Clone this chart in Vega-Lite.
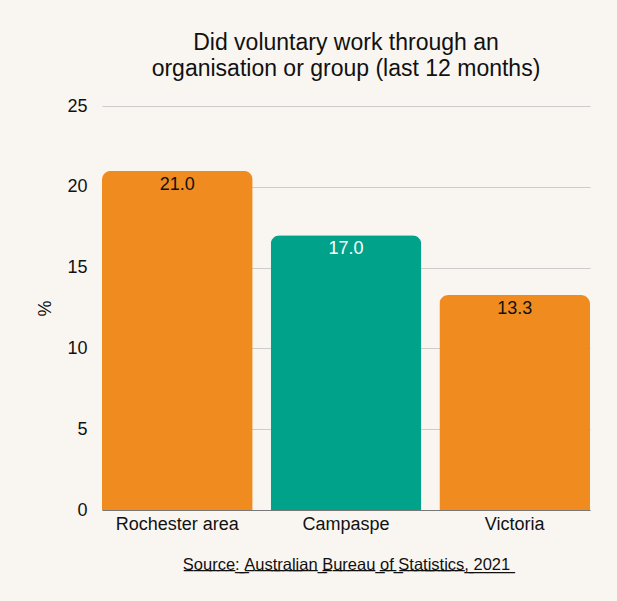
{
  "$schema": "https://vega.github.io/schema/vega-lite/v6.json",
  "width": 488,
  "height": 404,
  "autosize": "none",
  "padding": {"left": 102, "top": 106, "right": 27, "bottom": 91},
  "background": "#F9F6F1",
  "config": {
    "font": "Liberation Sans",
    "view": {"stroke": null},
    "axis": {"labelFont": "Liberation Sans", "titleFont": "Liberation Sans", "labelColor": "#111", "titleColor": "#111"}
  },
  "title": {
    "text": ["Did voluntary work through an", "organisation or group (last 12 months)"],
    "fontSize": 23,
    "fontWeight": "normal",
    "color": "#111",
    "anchor": "middle",
    "lineHeight": 26,
    "offset": 16
  },
  "data": {
    "values": [
      {"region": "Rochester area", "value": 21.0, "label": "21.0", "group": "other"},
      {"region": "Campaspe", "value": 17.0, "label": "17.0", "group": "focus"},
      {"region": "Victoria", "value": 13.3, "label": "13.3", "group": "other"}
    ]
  },
  "encoding": {
    "x": {
      "field": "region",
      "type": "nominal",
      "sort": null,
      "scale": {"paddingInner": 0.107, "paddingOuter": 0},
      "axis": {
        "labelAngle": 0,
        "labelFontSize": 18,
        "labelPadding": 5,
        "ticks": false,
        "domainColor": "#777",
        "title": "S\u0332o\u0332u\u0332r\u0332c\u0332e\u0332:\u0332 \u0332A\u0332u\u0332s\u0332t\u0332r\u0332a\u0332l\u0332i\u0332a\u0332n\u0332 \u0332B\u0332u\u0332r\u0332e\u0332a\u0332u\u0332 \u0332o\u0332f\u0332 \u0332S\u0332t\u0332a\u0332t\u0332i\u0332s\u0332t\u0332i\u0332c\u0332s\u0332,\u0332 \u03322\u03320\u03322\u03321\u0332",
        "titleFontSize": 16.5,
        "titleFontWeight": "normal",
        "titlePadding": 23
      }
    },
    "y": {
      "field": "value",
      "type": "quantitative",
      "scale": {"domain": [0, 25]},
      "axis": {
        "values": [0, 5, 10, 15, 20, 25],
        "title": "%",
        "titleFontSize": 18,
        "titleFontWeight": "normal",
        "titlePadding": 12,
        "labelFontSize": 18,
        "labelPadding": 15,
        "ticks": false,
        "domain": false,
        "gridColor": "#CCCCCC"
      }
    }
  },
  "layer": [
    {
      "mark": {"type": "bar", "cornerRadiusTopLeft": 9, "cornerRadiusTopRight": 9},
      "encoding": {
        "color": {
          "field": "group",
          "type": "nominal",
          "scale": {"domain": ["other", "focus"], "range": ["#F08C1F", "#00A38A"]},
          "legend": null
        }
      }
    },
    {
      "mark": {"type": "text", "baseline": "top", "dy": 5, "fontSize": 18},
      "encoding": {
        "text": {"field": "label"},
        "color": {
          "field": "group",
          "type": "nominal",
          "scale": {"domain": ["other", "focus"], "range": ["#111111", "#FFFFFF"]},
          "legend": null
        }
      }
    }
  ],
  "resolve": {"scale": {"color": "independent"}}
}
